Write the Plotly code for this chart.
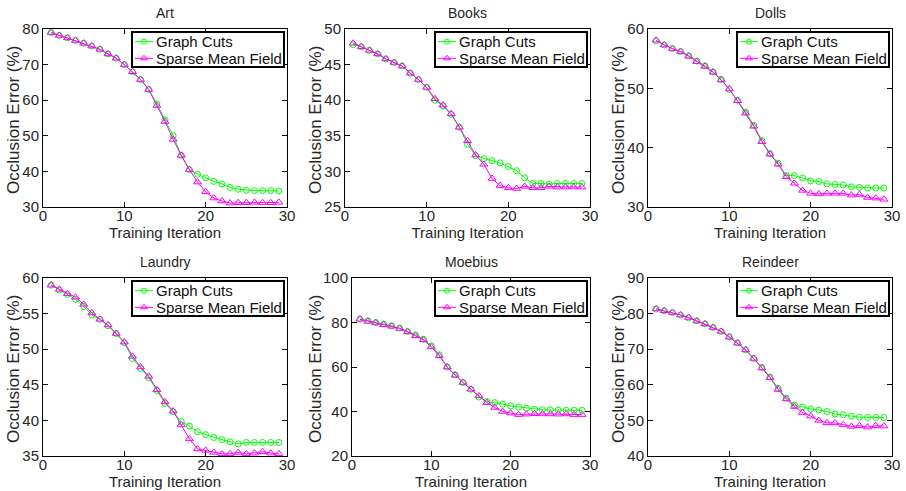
import plotly.graph_objects as go

iterations = list(range(1, 30))

titles = ["Art", "Books", "Dolls", "Laundry", "Moebius", "Reindeer"]
series_names = ["Graph Cuts", "Sparse Mean Field"]

art_gc = [79, 78.2, 77.5, 76.8, 76, 75.2, 74.3, 73, 71.8, 70, 68, 65.8, 63, 59, 54.5, 50, 44.5, 40.5,
          39.2, 38.2, 37.2, 36.5, 35.5, 35, 34.7, 34.6, 34.6, 34.6, 34.5]
art_smf = [79, 78.2, 77.5, 76.8, 76, 75.2, 74.3, 73, 71.8, 70, 68, 65.8, 63, 58.5, 54, 49, 44.5, 40.5,
           37, 34.3, 32.5, 31.7, 31.1, 31.2, 31.2, 31.3, 31.2, 31.2, 31.3]

books_gc = [47.8, 47.5, 47, 46.5, 45.8, 45.3, 44.8, 43.8, 42.9, 41.8, 40, 39.2, 38, 36.2, 33.8, 32.2,
            31.8, 31.5, 31.2, 30.7, 30.1, 29.1, 28.3, 28.3, 28.2, 28.3, 28.3, 28.3, 28.3]
books_smf = [48, 47.5, 47, 46.5, 45.8, 45.3, 44.8, 43.8, 42.9, 41.8, 40.2, 39.3, 38.1, 36.2, 34.3, 32.3,
             31, 29, 28, 27.7, 27.6, 27.9, 27.7, 27.7, 27.9, 27.8, 27.8, 27.8, 27.8]

dolls_gc = [58, 57.3, 56.7, 56.2, 55.5, 54.6, 53.8, 52.8, 51.5, 49.8, 48, 46, 43.8, 41.2, 39, 37.4,
            35.3, 35.3, 34.9, 34.4, 34.3, 33.9, 33.8, 33.7, 33.4, 33.3, 33.2, 33.2, 33.2]
dolls_smf = [58.1, 57.3, 56.7, 56.2, 55.4, 54.5, 53.7, 52.7, 51.4, 49.9, 47.9, 45.8, 43.6, 41, 38.9, 37.2,
             35.1, 34, 32.8, 32.3, 32.2, 32.3, 32.3, 32.3, 32, 32.1, 31.6, 31.5, 31.3]

laundry_gc = [59, 58.3, 57.7, 57, 56, 54.8, 54.2, 53.3, 52.2, 50.9, 48.7, 47.3, 46, 44.2, 42.4, 41.2,
              39.8, 39.2, 38.4, 38, 37.6, 37.3, 37, 36.7, 36.9, 36.9, 36.9, 36.9, 36.9]
laundry_smf = [59, 58.4, 57.8, 57.3, 56.3, 55.1, 54.2, 53.4, 52.2, 51, 49, 47.5, 46.2, 44.3, 42.6, 41.3,
               39.4, 37.4, 36, 35.8, 35.5, 35.3, 35.3, 35.5, 35.3, 35.4, 35.6, 35.4, 35.3]

moebius_gc = [81.5, 80.8, 80, 79.3, 78.5, 77.5, 76, 74.5, 72.5, 69.5, 65.5, 60, 56.5, 53, 50, 46.5,
              44.5, 44, 43.3, 42.5, 42, 41.5, 41, 40.8, 40.7, 40.6, 40.5, 40.5, 40.5]
moebius_smf = [81.5, 80.5, 79.8, 79, 78.3, 77.3, 75.8, 74, 72.2, 69, 65, 60, 56.3, 53, 50, 47,
               44, 41.8, 40, 39.3, 38.6, 38.8, 39, 38.9, 38.9, 38.8, 38.9, 38.6, 38.6]

reindeer_gc = [81.3, 80.8, 80.3, 79.6, 78.8, 78, 77.1, 76.1, 75, 73.5, 71.8, 69.8, 67.4, 64.9, 62.2, 59,
               56.3, 54.3, 53.8, 53.2, 52.9, 52.5, 51.8, 51.6, 51.2, 50.9, 50.8, 50.8, 50.8]
reindeer_smf = [81.3, 80.8, 80.3, 79.6, 78.9, 77.9, 77.1, 76.1, 75, 73.4, 71.7, 69.8, 67.4, 64.7, 62, 58.7,
                56, 53.9, 52.2, 51.2, 50, 49.3, 49.3, 48.8, 48.3, 48.5, 48.1, 48.5, 48.4]

gc_series = [art_gc, books_gc, dolls_gc, laundry_gc, moebius_gc, reindeer_gc]
smf_series = [art_smf, books_smf, dolls_smf, laundry_smf, moebius_smf, reindeer_smf]

y_ranges = [[30, 80], [25, 50], [30, 60], [35, 60], [20, 100], [40, 90]]
y_dticks = [10, 5, 10, 5, 20, 10]
x_range = [0, 30]
x_dtick = 10

x_title = "Training Iteration"
y_title = "Occlusion Error (%)"

W, H = 906, 491
# pixel boxes of each axes: (left, right, top, bottom)
boxes = [(43, 287, 29, 207), (345, 590, 29, 207), (648, 892, 29, 207),
         (43, 287, 278, 456), (352, 590, 278, 456), (648, 892, 278, 456)]
# x pixel of the rotated y-title centre for each panel
ytitle_x = [13, 315, 618, 13, 315, 618]

FONT = "Liberation Sans, Arial, Helvetica, sans-serif"
TXT = "#262626"
GREEN = "#00ff00"
MAGENTA = "#ff00ff"
colors = [GREEN, MAGENTA]
symbols = ["circle-open", "triangle-up-open"]
msizes = [6, 7]
leg_msizes = [5, 6]

fig = go.Figure()
layout = dict(
    width=W, height=H,
    margin=dict(l=0, r=0, t=0, b=0),
    paper_bgcolor="white", plot_bgcolor="rgba(0,0,0,0)",
    font=dict(family=FONT, size=15, color=TXT),
    showlegend=False,
    annotations=[], shapes=[],
)

for i in range(6):
    n = "" if i == 0 else str(i + 1)
    xa, ya = "x" + n, "y" + n
    l, r, t, b = boxes[i]
    for k, ys in enumerate([gc_series[i], smf_series[i]]):
        fig.add_trace(go.Scatter(
            x=iterations, y=ys, xaxis=xa, yaxis=ya,
            name=series_names[k], mode="lines+markers",
            line=dict(color=colors[k], width=1),
            marker=dict(symbol=symbols[k], size=msizes[k], color=colors[k],
                        line=dict(width=1, color=colors[k])),
        ))
    common = dict(showline=True, linecolor="black", linewidth=1, mirror="ticks",
                  ticks="inside", ticklen=5, tickcolor="black", showgrid=False, zeroline=False,
                  automargin=False, fixedrange=True,
                  tickfont=dict(family=FONT, size=15, color=TXT))
    layout["xaxis" + n] = dict(
        domain=[l / W, r / W], anchor=ya, range=x_range, dtick=x_dtick,
        ticklabelstandoff=-5,
        title=dict(text=x_title, standoff=0, font=dict(family=FONT, size=15, color=TXT)),
        **common)
    layout["yaxis" + n] = dict(
        domain=[1 - b / H, 1 - t / H], anchor=xa, range=y_ranges[i], dtick=y_dticks[i],
        **common)
    layout["annotations"].append(dict(
        text=y_title, textangle=-90, x=ytitle_x[i] / W, y=1 - ((t + b) / 2 + 2) / H,
        xref="paper", yref="paper", xanchor="center", yanchor="middle", showarrow=False,
        font=dict(family=FONT, size=17, color=TXT),
    ))
    layout["annotations"].append(dict(
        text=titles[i], x=(l + r) / 2 / W, y=1 - (t - 16.5) / H, xref="paper", yref="paper",
        xanchor="center", yanchor="middle", showarrow=False,
        font=dict(family=FONT, size=14, color=TXT),
    ))

# legend boxes drawn on a full-page overlay axis (pixel units)
layout["xaxis7"] = dict(domain=[0, 1], range=[0, W], anchor="y7", visible=False, fixedrange=True)
layout["yaxis7"] = dict(domain=[0, 1], range=[H, 0], anchor="x7", visible=False, fixedrange=True)
for i in range(6):
    l, r, t, b = boxes[i]
    bx1 = r - 3
    bx0 = bx1 - 152
    by0 = t + 3
    by1 = t + 38
    layout["shapes"].append(dict(
        type="rect", xref="x7", yref="y7", x0=bx0, x1=bx1, y0=by0, y1=by1,
        line=dict(color="black", width=2), fillcolor="white", layer="below",
    ))
    for k in range(2):
        yc = t + 12.7 + k * 16.6
        fig.add_trace(go.Scatter(
            x=[bx0 + 3, bx0 + 21], y=[yc, yc], xaxis="x7", yaxis="y7", mode="lines",
            line=dict(color=colors[k], width=1), hoverinfo="skip", name=series_names[k],
        ))
        fig.add_trace(go.Scatter(
            x=[bx0 + 12], y=[yc], xaxis="x7", yaxis="y7", mode="markers",
            marker=dict(symbol=symbols[k], size=leg_msizes[k], color=colors[k],
                        line=dict(width=1, color=colors[k])),
            hoverinfo="skip", name=series_names[k],
        ))
        layout["annotations"].append(dict(
            text=series_names[k], x=(bx0 + 22) / W, y=1 - yc / H, xref="paper", yref="paper",
            xanchor="left", yanchor="middle", showarrow=False,
            font=dict(family=FONT, size=15, color="#111111"),
        ))

fig.update_layout(**layout)
fig.write_html("out.html", config={"displayModeBar": False},
               post_script="document.body.style.margin='0px';")
